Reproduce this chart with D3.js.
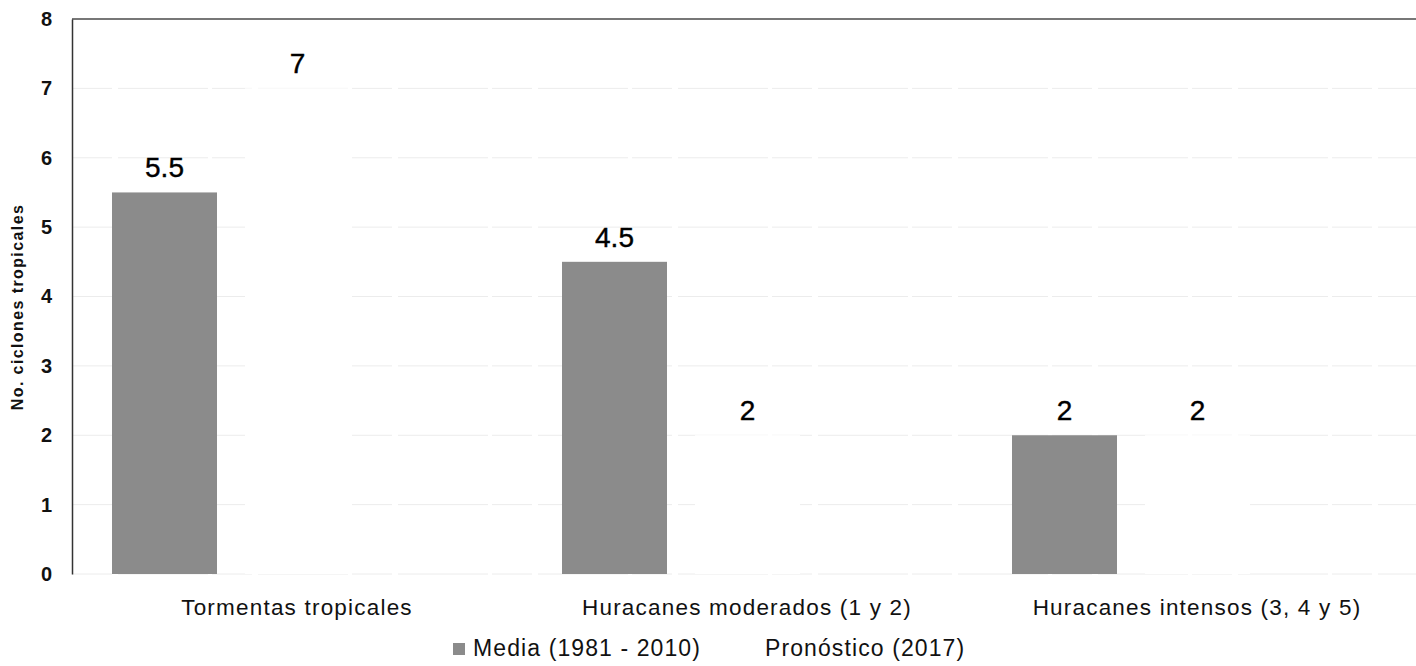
<!DOCTYPE html>
<html>
<head>
<meta charset="utf-8">
<script src="https://cdn.jsdelivr.net/npm/d3@7"></script>
<style>
  html, body { margin: 0; padding: 0; background: #fff; }
  svg { display: block; }
  text { font-family: "Liberation Sans", Arial, sans-serif; fill: #111; }
</style>
</head>
<body>
<svg id="chart" width="1416" height="666"></svg>
<script>
// Tropical cyclones: 1981-2010 mean vs 2017 forecast

const categories = ["Tormentas tropicales", "Huracanes moderados (1 y 2)", "Huracanes intensos (3, 4 y 5)"];
const series = ["Media (1981 - 2010)", "Pronóstico (2017)"];
const media = [5.5, 4.5, 2];
const pronostico = [7, 2, 2];
const yTicks = [0, 1, 2, 3, 4, 5, 6, 7, 8];

const W = 1416, H = 666;
const LEFT = 72, TOP = 19, BOTTOM = 574, RIGHT = 1422;
const COLORS = ["#8b8b8b", "#ffffff"];

const svg = d3.select("#chart");

const rows = categories.map((c, i) => ({ cat: c, values: [media[i], pronostico[i]] }));

const x0 = d3.scaleBand().domain(categories).range([LEFT, RIGHT]);
const x1 = d3.scaleBand().domain(series).range([40, 278]).paddingInner(28 / 133);
const y = d3.scaleLinear().domain([0, 8]).range([BOTTOM, TOP]);

// faint gridlines
svg.append("g").selectAll("line")
  .data(yTicks.filter((t) => t < 8)).enter().append("line")
  .attr("x1", LEFT).attr("x2", W)
  .attr("y1", (t) => y(t)).attr("y2", (t) => y(t))
  .attr("stroke", "#ececec").attr("stroke-width", 1)
  .attr("stroke-dasharray", "40 6 90 4");

// top line at 8
svg.append("line").attr("x1", LEFT).attr("x2", W)
  .attr("y1", y(8)).attr("y2", y(8))
  .attr("stroke", "#4a4a4a").attr("stroke-width", 1.5);

// bars
const grp = svg.append("g").selectAll("g").data(rows).enter().append("g")
  .attr("transform", (d) => `translate(${x0(d.cat)},0)`);

grp.selectAll("rect").data((d) => d.values.map((v, j) => ({ s: series[j], v, j })))
  .enter().append("rect")
  .attr("x", (d) => x1(d.s)).attr("width", x1.bandwidth())
  .attr("y", (d) => y(d.v)).attr("height", (d) => y(0) - y(d.v))
  .attr("fill", (d) => COLORS[d.j]);

grp.selectAll("text.val").data((d) => d.values.map((v, j) => ({ s: series[j], v, j })))
  .enter().append("text").attr("class", "val")
  .attr("x", (d) => x1(d.s) + x1.bandwidth() / 2)
  .attr("y", (d) => y(d.v) - 15)
  .attr("text-anchor", "middle")
  .style("font-size", "28px").style("fill", "#000")
  .style("stroke", "#000").style("stroke-width", "0.4px")
  .text((d) => String(d.v));

// y axis
const yAxis = svg.append("g").attr("transform", `translate(${LEFT},0)`)
  .call(d3.axisLeft(y).tickValues(yTicks).tickSize(0).tickPadding(20).tickFormat(d3.format("d")));
yAxis.select(".domain").attr("stroke", "#333").attr("stroke-width", 1.5);
yAxis.selectAll("text")
  .style("font-family", "'Liberation Sans', Arial, sans-serif")
  .style("font-size", "20px").style("font-weight", "bold").attr("fill", "#111");

svg.append("text")
  .attr("transform", `translate(23,307) rotate(-90)`)
  .attr("text-anchor", "middle")
  .style("font-size", "16px").style("font-weight", "bold").style("letter-spacing", "1.4px")
  .text("No. ciclones tropicales");

// category labels
svg.append("g").selectAll("text").data(categories).enter().append("text")
  .attr("x", (d) => x0(d) + x0.bandwidth() / 2)
  .attr("y", BOTTOM + 41)
  .attr("text-anchor", "middle")
  .style("font-size", "22.5px").style("letter-spacing", "1.2px")
  .text((d) => d);

// legend
const legend = svg.append("g").attr("transform", "translate(453,656)");
legend.append("rect").attr("x", 0).attr("y", -13).attr("width", 12).attr("height", 12)
  .attr("fill", COLORS[0]);
legend.append("text").attr("x", 20).attr("y", 0)
  .style("font-size", "23px").style("letter-spacing", "1.1px").text(series[0]);
legend.append("text").attr("x", 312).attr("y", 0)
  .style("font-size", "23px").style("letter-spacing", "1.1px").text(series[1]);
</script>
</body>
</html>
